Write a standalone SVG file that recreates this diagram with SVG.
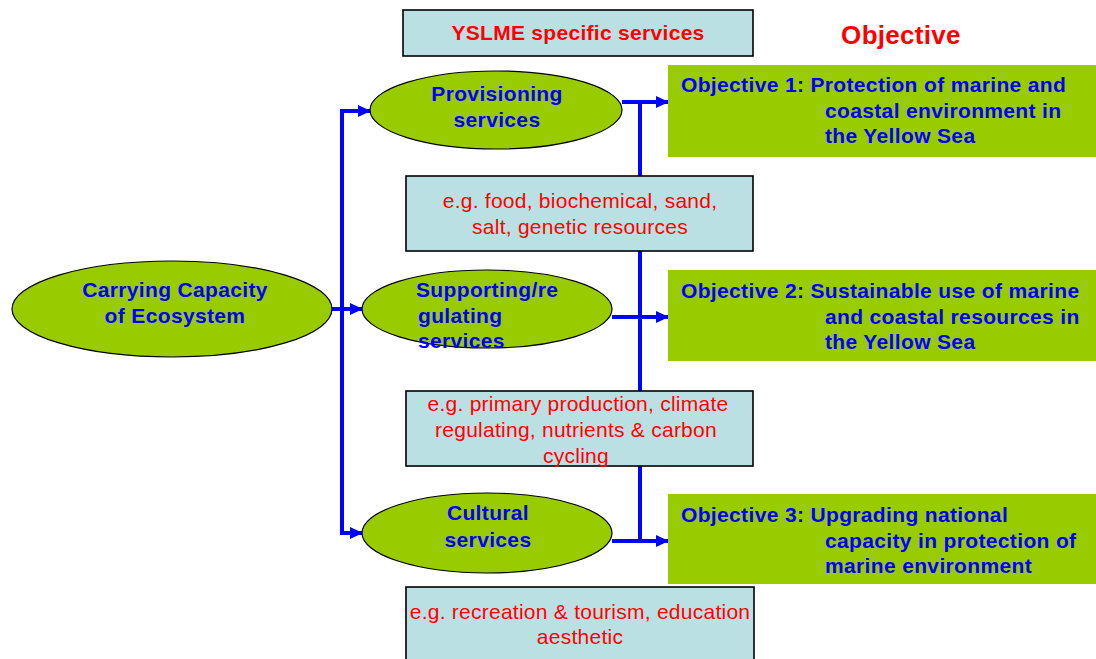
<svg xmlns="http://www.w3.org/2000/svg" width="1096" height="659" viewBox="0 0 1096 659">
<defs>
<marker id="arr" markerUnits="userSpaceOnUse" markerWidth="13" markerHeight="12" refX="12" refY="6" orient="auto">
<path d="M0,0 L13,6 L0,12 z" fill="#0000FF"/>
</marker>
<style>
.ell{fill:#99CC00;stroke:#000;stroke-width:1.2}
.obj{fill:#99CC00}
.box{fill:#BBE0E3;stroke:#000;stroke-width:1.6}
.bt{font-family:"Liberation Sans",Arial,sans-serif;font-size:21px;font-weight:bold;fill:#0000FF;letter-spacing:0.35px}
.rt{font-family:"Liberation Sans",Arial,sans-serif;font-size:21px;fill:#FF0000;letter-spacing:0.25px}
.rb{font-family:"Liberation Sans",Arial,sans-serif;font-size:21px;font-weight:bold;fill:#FF0000;letter-spacing:0.3px}
.c{text-anchor:middle}
.ln{stroke:#0000FF;stroke-width:4;fill:none}
.la{stroke:#0000FF;stroke-width:4;fill:none;marker-end:url(#arr)}
</style>
</defs>
<rect width="1096" height="659" fill="#fff"/>

<g id="connectors">
<path class="ln" d="M342,111 V533"/>
<path class="la" d="M340,111 H370"/>
<path class="la" d="M332,309 H362"/>
<path class="la" d="M340,533 H362"/>
<path class="ln" d="M640,102 V542"/>
<path class="la" d="M622,102 H668"/>
<path class="la" d="M612,317 H668"/>
<path class="la" d="M612,541 H668"/>
</g>

<g id="title">
<rect class="box" x="403" y="10" width="350" height="46"/>
<text class="rb c" x="578" y="40">YSLME specific services</text>
</g>
<g id="objective-header">
<text class="rb c" x="901" y="44" style="font-size:26px">Objective</text>
</g>

<g id="carrying">
<ellipse class="ell" cx="172" cy="309" rx="160" ry="48"/>
<text class="bt c" x="175" y="297">Carrying Capacity</text>
<text class="bt c" x="175" y="323">of Ecosystem</text>
</g>

<g id="provisioning">
<ellipse class="ell" cx="496" cy="110" rx="126" ry="39"/>
<text class="bt c" x="497" y="101">Provisioning</text>
<text class="bt c" x="497" y="127">services</text>
</g>

<g id="supporting">
<ellipse class="ell" cx="487" cy="309" rx="125" ry="39"/>
<text class="bt" x="416" y="297">Supporting/re</text>
<text class="bt" x="418" y="323">gulating</text>
<text class="bt" x="418" y="348">services</text>
</g>

<g id="cultural">
<ellipse class="ell" cx="487" cy="533" rx="125" ry="40"/>
<text class="bt c" x="488" y="520">Cultural</text>
<text class="bt c" x="488" y="547">services</text>
</g>

<g id="eg-provisioning">
<rect class="box" x="406" y="176" width="347" height="75"/>
<text class="rt c" x="580" y="208">e.g. food, biochemical, sand,</text>
<text class="rt c" x="580" y="234">salt, genetic resources</text>
</g>

<g id="eg-supporting">
<rect class="box" x="406" y="391" width="347" height="75"/>
<text class="rt c" x="578" y="411">e.g. primary production, climate</text>
<text class="rt c" x="576" y="437">regulating, nutrients &amp; carbon</text>
<text class="rt c" x="576" y="463">cycling</text>
</g>

<g id="eg-cultural">
<rect class="box" x="406" y="587" width="348" height="80"/>
<text class="rt c" x="580" y="619">e.g. recreation &amp; tourism, education</text>
<text class="rt c" x="580" y="644">aesthetic</text>
</g>

<g id="objective1">
<rect class="obj" x="668" y="65" width="428" height="92"/>
<text class="bt" x="681" y="92">Objective 1: Protection of marine and</text>
<text class="bt" x="825" y="118">coastal environment in</text>
<text class="bt" x="825" y="143">the Yellow Sea</text>
</g>

<g id="objective2">
<rect class="obj" x="668" y="270" width="428" height="91"/>
<text class="bt" x="681" y="298">Objective 2: Sustainable use of marine</text>
<text class="bt" x="825" y="324">and coastal resources in</text>
<text class="bt" x="825" y="349">the Yellow Sea</text>
</g>

<g id="objective3">
<rect class="obj" x="668" y="494" width="428" height="90"/>
<text class="bt" x="681" y="522">Objective 3: Upgrading national</text>
<text class="bt" x="825" y="548">capacity in protection of</text>
<text class="bt" x="825" y="573">marine environment</text>
</g>
</svg>
